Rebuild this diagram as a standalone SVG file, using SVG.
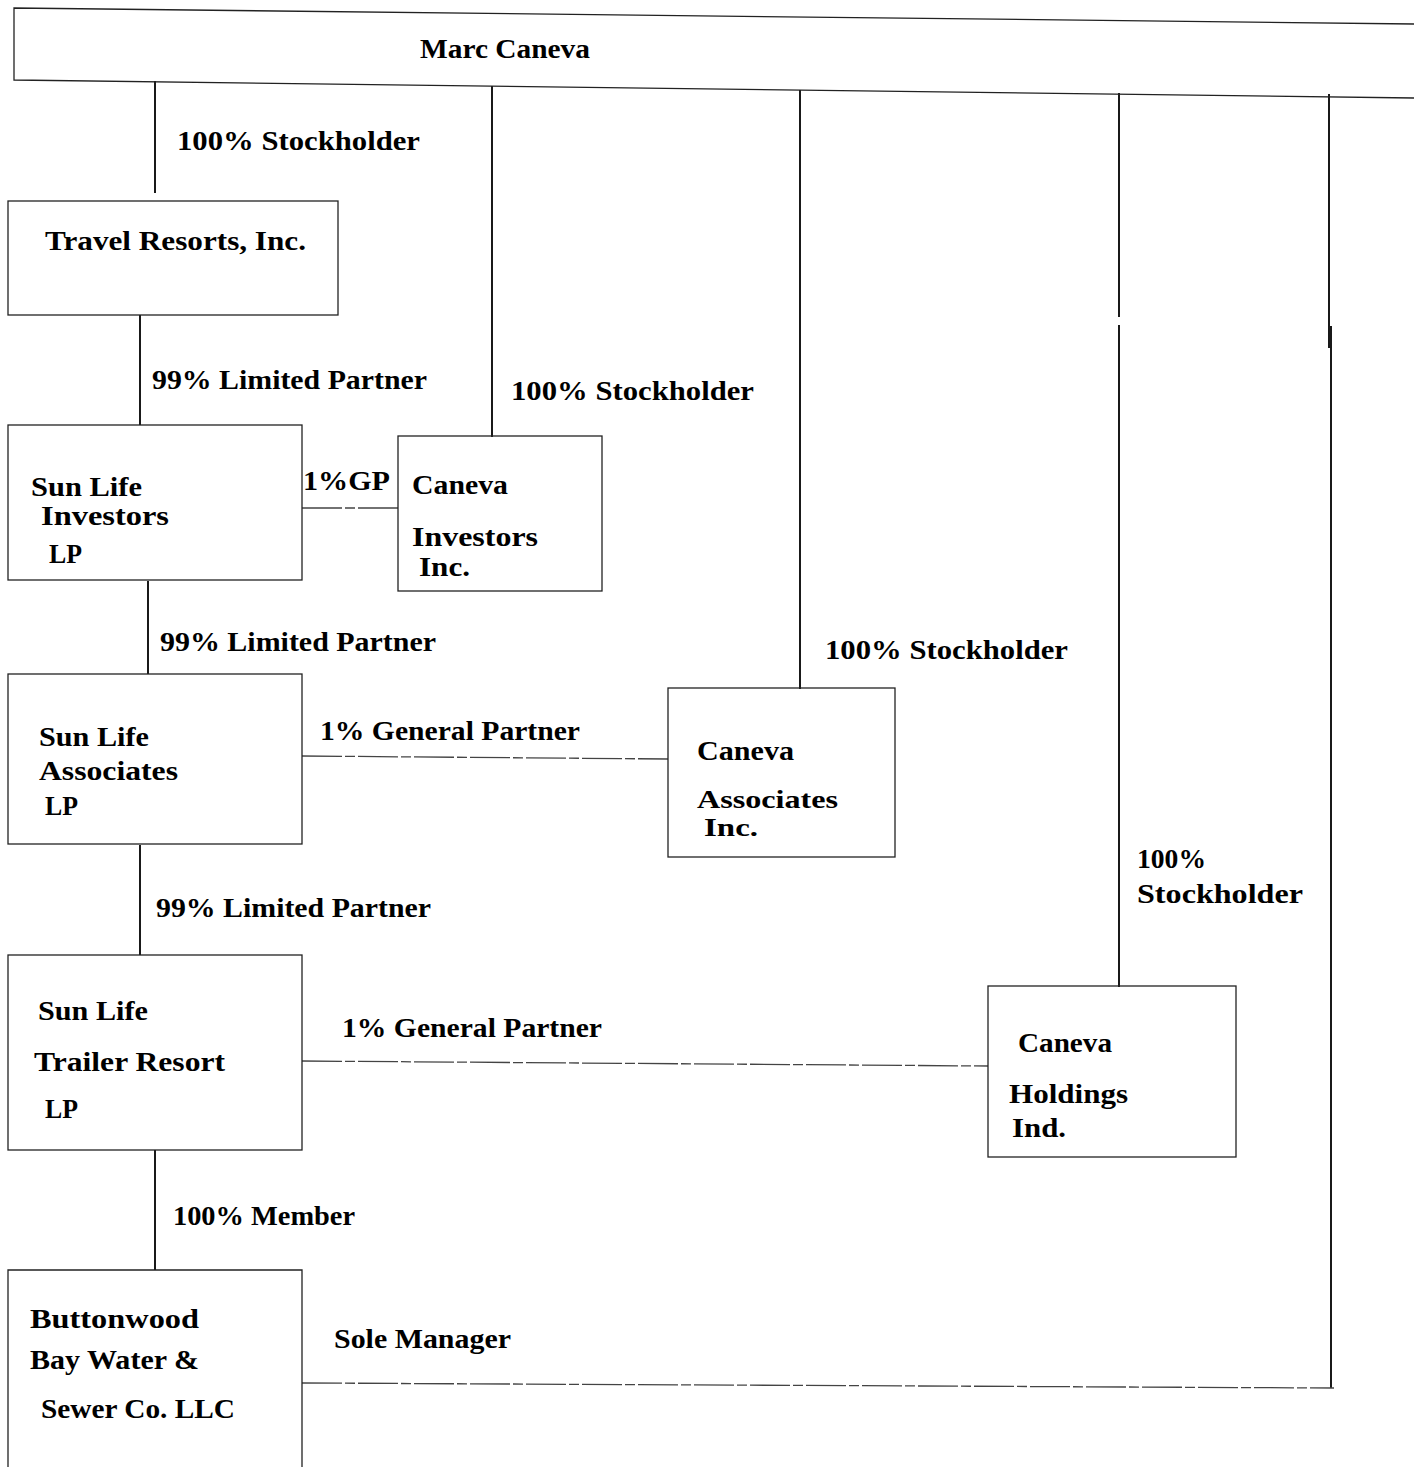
<svg xmlns="http://www.w3.org/2000/svg" width="1414" height="1467" viewBox="0 0 1414 1467">
<style>
.t{font-family:"Liberation Serif","Times New Roman",serif;font-weight:bold;font-size:28px;fill:#000}
.s{font-size:25px}
.box{fill:none;stroke:#222;stroke-width:1.3}
.h{fill:none;stroke:#444;stroke-width:1.3;stroke-dasharray:40 3 10 3}
.v{fill:none;stroke:#000;stroke-width:1.8}
</style>
<rect width="1414" height="1467" fill="#fff"/>
<g id="connectors">
<line class="v" x1="155" y1="81" x2="155" y2="193"/>
<line class="v" x1="492" y1="86" x2="492" y2="437"/>
<line class="v" x1="800" y1="90" x2="800" y2="689"/>
<line class="v" x1="1119" y1="93" x2="1119" y2="317"/>
<line class="v" x1="1119" y1="325" x2="1119" y2="987"/>
<line class="v" x1="1329" y1="94" x2="1329" y2="348"/>
<line class="v" x1="1331" y1="326" x2="1331" y2="1388"/>
<line class="v" x1="140" y1="315" x2="140" y2="425"/>
<line class="v" x1="148" y1="581" x2="148" y2="674"/>
<line class="v" x1="140" y1="845" x2="140" y2="955"/>
<line class="v" x1="155" y1="1150" x2="155" y2="1270"/>
<line class="h" x1="302" y1="508" x2="398" y2="508"/>
<line class="h" x1="302" y1="756" x2="668" y2="759"/>
<line class="h" x1="302" y1="1061" x2="988" y2="1066"/>
<line class="h" x1="302" y1="1383" x2="1334" y2="1388"/>
<text class="t" x="177" y="150" textLength="243" lengthAdjust="spacingAndGlyphs">100% Stockholder</text>
<text class="t" x="152" y="389" textLength="275" lengthAdjust="spacingAndGlyphs">99% Limited Partner</text>
<text class="t" x="511" y="400" textLength="243" lengthAdjust="spacingAndGlyphs">100% Stockholder</text>
<text class="t" x="303" y="490" textLength="87" lengthAdjust="spacingAndGlyphs">1%GP</text>
<text class="t" x="160" y="651" textLength="276" lengthAdjust="spacingAndGlyphs">99% Limited Partner</text>
<text class="t" x="825" y="659" textLength="243" lengthAdjust="spacingAndGlyphs">100% Stockholder</text>
<text class="t" x="320" y="740" textLength="260" lengthAdjust="spacingAndGlyphs">1% General Partner</text>
<text class="t" x="1137" y="868" textLength="69" lengthAdjust="spacingAndGlyphs">100%</text>
<text class="t" x="1137" y="903" textLength="166" lengthAdjust="spacingAndGlyphs">Stockholder</text>
<text class="t" x="156" y="917" textLength="275" lengthAdjust="spacingAndGlyphs">99% Limited Partner</text>
<text class="t" x="342" y="1037" textLength="260" lengthAdjust="spacingAndGlyphs">1% General Partner</text>
<text class="t" x="173" y="1225" textLength="182" lengthAdjust="spacingAndGlyphs">100% Member</text>
<text class="t" x="334" y="1348" textLength="177" lengthAdjust="spacingAndGlyphs">Sole Manager</text>
</g>
<g id="marc-caneva">
<polyline class="box" points="1414,24 14,8 14,80 1414,98"/>
<text class="t" x="420" y="58" textLength="170" lengthAdjust="spacingAndGlyphs">Marc Caneva</text>
</g>
<g id="travel-resorts">
<rect class="box" x="8" y="201" width="330" height="114"/>
<text class="t" x="45" y="250" textLength="261" lengthAdjust="spacingAndGlyphs">Travel Resorts, Inc.</text>
</g>
<g id="sun-life-investors">
<rect class="box" x="8" y="425" width="294" height="155"/>
<text class="t" x="31" y="496" textLength="111" lengthAdjust="spacingAndGlyphs">Sun Life</text>
<text class="t" x="41" y="525" textLength="128" lengthAdjust="spacingAndGlyphs">Investors</text>
<text class="t" x="49" y="563" textLength="33" lengthAdjust="spacingAndGlyphs">LP</text>
</g>
<g id="caneva-investors">
<rect class="box" x="398" y="436" width="204" height="155"/>
<text class="t" x="412" y="494" textLength="96" lengthAdjust="spacingAndGlyphs">Caneva</text>
<text class="t" x="412" y="546" textLength="126" lengthAdjust="spacingAndGlyphs">Investors</text>
<text class="t" x="419" y="576" textLength="51" lengthAdjust="spacingAndGlyphs">Inc.</text>
</g>
<g id="sun-life-associates">
<rect class="box" x="8" y="674" width="294" height="170"/>
<text class="t" x="39" y="746" textLength="110" lengthAdjust="spacingAndGlyphs">Sun Life</text>
<text class="t" x="39" y="780" textLength="139" lengthAdjust="spacingAndGlyphs">Associates</text>
<text class="t" x="45" y="815" textLength="33" lengthAdjust="spacingAndGlyphs">LP</text>
</g>
<g id="caneva-associates">
<rect class="box" x="668" y="688" width="227" height="169"/>
<text class="t" x="697" y="760" textLength="97" lengthAdjust="spacingAndGlyphs">Caneva</text>
<text class="t s" x="697" y="808" textLength="141" lengthAdjust="spacingAndGlyphs">Associates</text>
<text class="t s" x="704" y="836" textLength="54" lengthAdjust="spacingAndGlyphs">Inc.</text>
</g>
<g id="sun-life-trailer-resort">
<rect class="box" x="8" y="955" width="294" height="195"/>
<text class="t" x="38" y="1020" textLength="110" lengthAdjust="spacingAndGlyphs">Sun Life</text>
<text class="t" x="34" y="1071" textLength="191" lengthAdjust="spacingAndGlyphs">Trailer Resort</text>
<text class="t" x="45" y="1118" textLength="33" lengthAdjust="spacingAndGlyphs">LP</text>
</g>
<g id="caneva-holdings">
<rect class="box" x="988" y="986" width="248" height="171"/>
<text class="t" x="1018" y="1052" textLength="94" lengthAdjust="spacingAndGlyphs">Caneva</text>
<text class="t" x="1009" y="1103" textLength="119" lengthAdjust="spacingAndGlyphs">Holdings</text>
<text class="t" x="1012" y="1137" textLength="54" lengthAdjust="spacingAndGlyphs">Ind.</text>
</g>
<g id="buttonwood">
<polyline class="box" points="8,1467 8,1270 302,1270 302,1467"/>
<text class="t" x="30" y="1328" textLength="169" lengthAdjust="spacingAndGlyphs">Buttonwood</text>
<text class="t" x="30" y="1369" textLength="169" lengthAdjust="spacingAndGlyphs">Bay Water &amp;</text>
<text class="t" x="41" y="1418" textLength="194" lengthAdjust="spacingAndGlyphs">Sewer Co. LLC</text>
</g>
</svg>
